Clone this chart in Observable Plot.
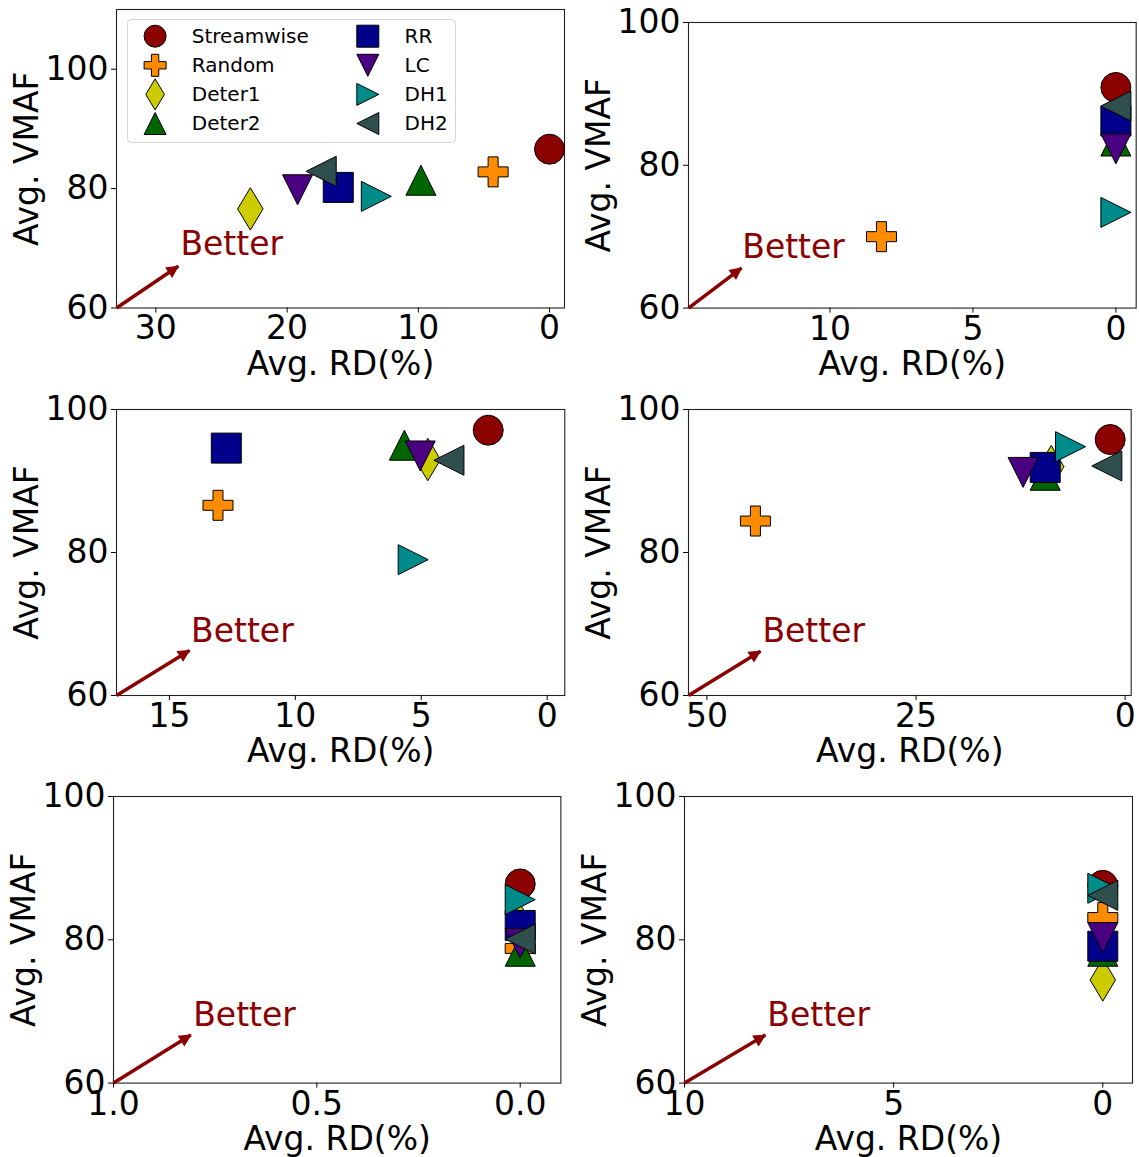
<!DOCTYPE html>
<html><head><meta charset="utf-8">
<script src="https://cdn.jsdelivr.net/npm/d3@7"></script>
<script src="https://cdn.jsdelivr.net/npm/@observablehq/plot@0.6"></script>
<style>
body{margin:0;background:white;}
#root{position:relative;width:1139px;height:1157px;overflow:hidden;background:white;font-family:"DejaVu Sans";}
#root > svg{position:absolute;}
</style></head><body><div id="root"></div>
<script>
// ---------- data ----------
const methods = ["Streamwise", "Random", "Deter1", "Deter2", "RR", "LC", "DH1", "DH2"];

const rdA   = [0, 4.3, 22.8, 9.8, 16.1, 19.2, 13.2, 17.4];
const vmafA = [86.6, 82.8, 76.6, 81.4, 80.2, 79.8, 78.7, 82.9];

const rdB   = [0, 8.2, 0, 0, 0, 0, 0, 0];
const vmafB = [90.9, 70.0, 86.2, 83.4, 86.2, 82.3, 73.4, 88.3];

const rdC   = [2.34, 13.07, 4.74, 5.67, 12.74, 5.04, 5.32, 3.9];
const vmafC = [97.1, 86.6, 93.0, 95.0, 94.6, 93.5, 79.0, 92.9];

const rdD   = [1.79, 44.2, 8.84, 9.56, 9.56, 12.2, 6.53, 2.19];
const vmafD = [95.8, 84.4, 92.0, 90.8, 91.9, 91.2, 94.8, 92.1];

const rdE   = [0, 0, 0, 0, 0, 0, 0, 0];
const vmafE = [87.8, 78.8, 82.0, 78.4, 82.0, 79.5, 85.6, 80.1];

const rdF   = [0, 0, 0, 0, 0, 0, 0, 0];
const vmafF = [87.6, 83.1, 74.4, 78.4, 79.1, 80.3, 87.2, 86.2];

const xTicksA = [30, 20, 10, 0];
const xTicksB = [10, 5, 0];
const xTicksC = [15, 10, 5, 0];
const xTicksD = [50, 25, 0];
const xTicksE = [1.0, 0.5, 0.0];
const xTicksF = [10, 5, 0];
const yTicks = [60, 80, 100];

// "Better" annotation (data coordinates of each panel)
const betterX = [28.13, 13.07, 14.14, 43.36, 0.804, 8.02];
const betterY = [68.8, 67.0, 67.45, 67.45, 68.0, 68.0];
const arrowTipX = [28.3, 13.1, 14.2, 43.6, 0.81, 8.07];
const arrowTipY = [67.0, 65.6, 66.3, 66.2, 66.7, 66.7];

// ---------- styles ----------
const colors = ["#8b0000", "#ff8c00", "#cccc00", "#006400", "#00008b", "#4b0082", "#008b8b", "#2f4f4f"];

function poly(ctx, pts) { ctx.moveTo(pts[0][0], pts[0][1]); for (let i = 1; i < pts.length; i++) ctx.lineTo(pts[i][0], pts[i][1]); ctx.closePath(); }
const sym = {
  circle: {draw(c, s) { const h = Math.sqrt(s / Math.PI); c.moveTo(h, 0); c.arc(0, 0, h, 0, 2 * Math.PI); c.closePath(); }},
  plus: {draw(c, s) { const h = Math.sqrt(s / Math.PI), a = h / 3;
    poly(c, [[-a,-h],[a,-h],[a,-a],[h,-a],[h,a],[a,a],[a,h],[-a,h],[-a,a],[-h,a],[-h,-a],[-a,-a]]); }},
  thinDiamond: {draw(c, s) { const h = Math.sqrt(s / Math.PI), v = h * Math.SQRT2, w = 0.6 * v;
    poly(c, [[0,-v],[w,0],[0,v],[-w,0]]); }},
  triUp: {draw(c, s) { const h = Math.sqrt(s / Math.PI); poly(c, [[0,-h],[h,h],[-h,h]]); }},
  square: {draw(c, s) { const h = Math.sqrt(s / Math.PI); poly(c, [[-h,-h],[h,-h],[h,h],[-h,h]]); }},
  triDown: {draw(c, s) { const h = Math.sqrt(s / Math.PI); poly(c, [[0,h],[-h,-h],[h,-h]]); }},
  triRight: {draw(c, s) { const h = Math.sqrt(s / Math.PI); poly(c, [[h,0],[-h,h],[-h,-h]]); }},
  triLeft: {draw(c, s) { const h = Math.sqrt(s / Math.PI); poly(c, [[-h,0],[h,-h],[h,h]]); }},
  // arrow head with its tip at the anchor point, pointing right before rotation
  head: {draw(c, s) { const h = Math.sqrt(s / Math.PI); poly(c, [[0,0],[-2 * h, -h],[-2 * h, h]]); }}
};
const symbols = [sym.circle, sym.plus, sym.thinDiamond, sym.triUp, sym.square, sym.triDown, sym.triRight, sym.triLeft];

const panels = [
  {rd: rdA, vmaf: vmafA, xd: [33, -1.14], yd: [60, 110], xt: xTicksA, L: 116, R: 564, T: 9, B: 307.5},
  {rd: rdB, vmaf: vmafB, xd: [14.95, -0.71], yd: [60, 100], xt: xTicksB, L: 688.3, R: 1136, T: 21.7, B: 307.3},
  {rd: rdC, vmaf: vmafC, xd: [17.1, -0.7], yd: [60, 100], xt: xTicksC, L: 116, R: 564.3, T: 409, B: 695},
  {rd: rdD, vmaf: vmafD, xd: [52.2, -0.72], yd: [60, 100], xt: xTicksD, L: 688.3, R: 1131, T: 409, B: 695},
  {rd: rdE, vmaf: vmafE, xd: [1.0, -0.1], yd: [60, 100], xt: xTicksE, fmt: d3.format(".1f"), L: 113.3, R: 560.7, T: 795.7, B: 1082.3},
  {rd: rdF, vmaf: vmafF, xd: [10, -0.71], yd: [60, 100], xt: xTicksF, L: 684.3, R: 1132.3, T: 795.7, B: 1082.3}
];

const root = document.getElementById("root");
const ML = 112, MR = 6, MT = 24, MB = 78;

panels.forEach((p, k) => {
  const pts = methods.map((m, i) => ({method: m, rd: p.rd[i], vmaf: p.vmaf[i], i}));
  const dotMarks = pts.map(d => Plot.dot([d], {
    x: "rd", y: "vmaf", r: 15, symbol: symbols[d.i], fill: colors[d.i], stroke: "black", strokeWidth: 1
  }));
  // pixel direction of the arrow, for orienting its filled head
  const sx = d3.scaleLinear(p.xd, [p.L, p.R]), sy = d3.scaleLinear(p.yd, [p.B, p.T]);
  const ang = Math.atan2(sy(arrowTipY[k]) - sy(p.yd[0]), sx(arrowTipX[k]) - sx(p.xd[0])) * 180 / Math.PI;
  const arrow = {x1: p.xd[0], y1: p.yd[0], x2: arrowTipX[k], y2: arrowTipY[k]};
  const svg = Plot.plot({
    width: (p.R - p.L) + ML + MR,
    height: (p.B - p.T) + MT + MB,
    marginLeft: ML, marginRight: MR, marginTop: MT, marginBottom: MB,
    style: {background: "transparent", fontFamily: "DejaVu Sans", overflow: "visible"},
    x: {domain: p.xd},
    y: {domain: p.yd},
    marks: [
      Plot.frame({stroke: "#222", strokeWidth: 1.1}),
      Plot.axisX({ticks: p.xt, tickFormat: p.fmt, tickSize: 5, tickPadding: 3, fontSize: 33, label: null}),
      Plot.axisY({ticks: yTicks, tickSize: 5, tickPadding: 3, fontSize: 33, label: null}),
      Plot.text(["Avg. RD(%)"], {frameAnchor: "bottom", dy: 67, textAnchor: "middle", lineAnchor: "bottom", fontSize: 33, fill: "black"}),
      Plot.text(["Avg. VMAF"], {frameAnchor: "left", dx: -79, rotate: -90, textAnchor: "middle", lineAnchor: "bottom", fontSize: 33, fill: "black"}),
      Plot.link([arrow], {
        x1: "x1", y1: "y1", x2: "x2", y2: "y2", stroke: "#8b0000", strokeWidth: 3.5, insetEnd: 8
      }),
      Plot.dot([arrow], {x: "x2", y: "y2", r: 5.5, symbol: sym.head, rotate: ang, fill: "#8b0000", stroke: "#8b0000", strokeWidth: 1}),
      Plot.text([{x: betterX[k], y: betterY[k], t: "Better"}], {
        x: "x", y: "y", text: "t", textAnchor: "start", lineAnchor: "bottom", fill: "#8b0000", fontSize: 33
      }),
      ...dotMarks
    ]
  });
  svg.style.left = (p.L - ML) + "px";
  svg.style.top = (p.T - MT) + "px";
  svg.style.maxWidth = "none";
  root.appendChild(svg);
});

// ---------- legend (inside first panel) ----------
const legendData = methods.map((m, i) => ({method: m, col: Math.floor(i / 4), row: i % 4, i}));
const legend = Plot.plot({
  width: 330, height: 125,
  marginLeft: 1, marginRight: 1, marginTop: 1, marginBottom: 1,
  style: {background: "transparent", fontFamily: "DejaVu Sans", overflow: "visible"},
  x: {domain: [0, 1], range: [28.6, 241.3], axis: null},
  y: {domain: [0, 3], range: [17.7, 105], axis: null},
  marks: [
    Plot.frame({stroke: "#d4d4d4", strokeWidth: 1, rx: 4, fill: "white", fillOpacity: 0.8}),
    ...legendData.map(d => Plot.dot([d], {x: "col", y: "row", r: 11, symbol: symbols[d.i], fill: colors[d.i], stroke: "black", strokeWidth: 1})),
    Plot.text(legendData, {x: "col", y: "row", text: "method", dx: 36.7, textAnchor: "start", lineAnchor: "middle", fontSize: 20, fill: "black"})
  ]
});
legend.style.left = "125.7px";
legend.style.top = "18.3px";
legend.style.maxWidth = "none";
root.appendChild(legend);
</script>
</body></html>
